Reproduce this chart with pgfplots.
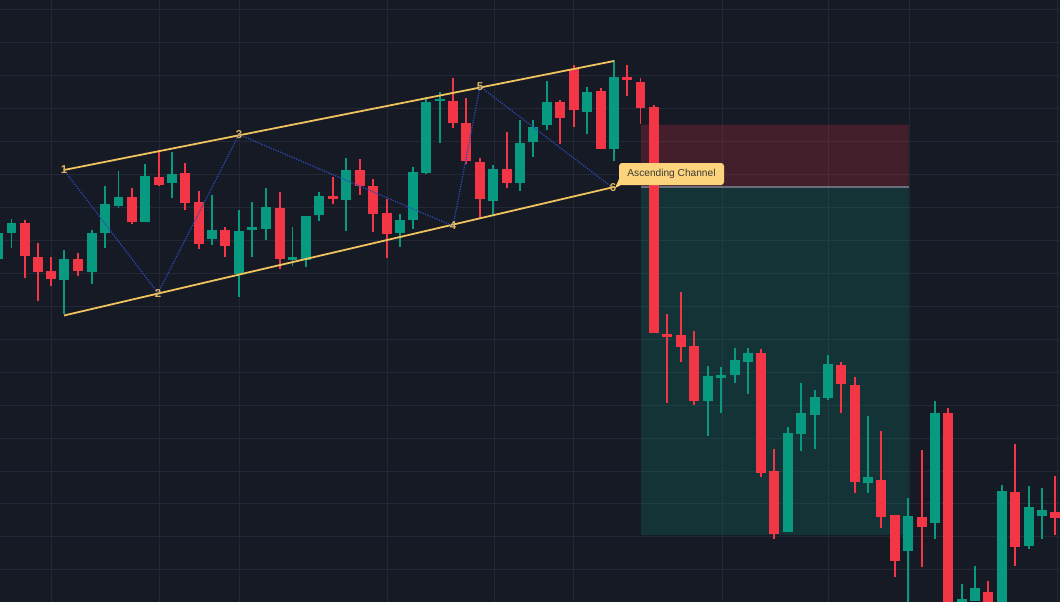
\documentclass[border=0pt]{standalone}
\usepackage{fontspec}
\setmainfont{Liberation Sans}
\usepackage{pgfplots}
\usepackage{pgfplotstable}
\pgfplotsset{compat=1.18}
\definecolor{bgc}{HTML}{161A25}
\definecolor{gridc}{HTML}{242836}
\definecolor{up}{HTML}{089981}
\definecolor{dn}{HTML}{F23645}
\definecolor{chan}{HTML}{EFC35E}
\definecolor{zig}{HTML}{2E49B4}
\definecolor{labc}{HTML}{DDB45E}
\definecolor{tip}{HTML}{FDD37C}
\definecolor{tipt}{HTML}{3A3A3A}
\definecolor{divc}{HTML}{6A6D7A}

% candles: x, body top, body bottom, wick top, wick bottom (pixel rows, top = 0)
\pgfplotstableread{
x bt bb wt wb
-2 233 259 226 268
11.5 223 233 219 248
64 259 280 250 314
92 233 272 230 284
105 204 233 186 248
118.5 197 206 171 208
145 176 222 164 222
172 174 183 152 198
212 230 239 195 245
239 231 274 210 297
252 227 229.5 202 257
266 207 229 188 240
292.5 257 260 227 266
306 216 260 216 267
319 196 215 192 221
346 170 200 158 231
400 220 233 214 247
413 172 220 167 229
426 102 173 97 174
440 99 101.5 92 143
493 169 201 165 215
520 143 183 120 191
533 127 142 120 157
547 102 125 81 130
587 92 112 87 134
614 77 149 60 161
708 376 401 366 436
721 375 377.5 367 413
735 360 375 348 383
748 353 362 348 394
788 433 532 427 532
801 413 434 383 451
815 397 415 390 449
828 364 398 355 400
868 477 483 416 493
908 516 551 498 610
935 413 523 401 539
962 599 610 584 610
975 588 601 566 601
1002 491 610 485 610
1029 507 546 486 549
1042 510 516 488 539
}\greentab

\pgfplotstableread{
x bt bb wt wb
25 223 256 220 278
38 257 272 243 301
51 271 279 257 286
78 259 271 253 276
132 197 222 188 224
159 177 185 150 186
185 173 203 163 210
199 202 244 191 249
225 230 246 227 257
280 208 259 192 269
333 196 199 177 204
360 170 186 159 195
373 186 214 179 232
387 213 234 199 258
453 101 123 78 128
466 123 161 98 164
480 162 199 158 218
507 169 183 132 188
560 102 118 100 144
574 69 110 65 127
601 91 149 88 149
627 77 80 65 96
640.5 82 108 78 124
654 107 333 105 333
667 334 337 314 403
681 335 347 292 362
694 346 401 331 405
761 353 473 349 477
774 471 534 449 539
841 365 384 362 413
855 385 482 377 493
881 480 517 431 528
895 515 561 515 577
922 517 527 450 567
948 413 610 408 610
988 592 610 581 610
1015 492 547 444 566
1055 512 518 476 535
}\redtab

\pgfplotstableread{
x y l
64 170 1
158 293 2
239 134.5 3
453 226 4
480 86.5 5
613 188 6
}\pivots

\pgfplotsset{
  wick/.style={draw=none, mark=none, forget plot,
    error bars/.cd, y dir=minus, y explicit, error mark=none,
    error bar style={line width=1.2bp, draw=#1, solid}},
  body/.style={draw=none, mark=none, forget plot,
    error bars/.cd, y dir=minus, y explicit, error mark=none,
    error bar style={line width=9.5bp, draw=#1, solid}},
}

\begin{document}
\begin{tikzpicture}
\begin{axis}[
  name=ax,
  width=1060bp, height=602bp, scale only axis,
  xmin=0, xmax=1060, ymin=0, ymax=602, y dir=reverse,
  axis background/.style={fill=bgc},
  axis line style={draw=none},
  major tick length=0pt,
  xtick={51,159,239,387,494,573,722,828,909,1057},
  ytick={9.7,42.65,75.6,108.55,141.5,174.45,207.4,240.35,273.3,306.25,339.2,372.15,405.1,438.05,471,503.95,536.9,569.85},
  xticklabels={}, yticklabels={},
  grid=major,
  major grid style={draw=gridc, line width=1bp},
  clip=true,
]
% risk / reward zones
\addplot[fill=dn, fill opacity=0.2, draw=none, forget plot]
  coordinates {(641,124.5) (908.5,124.5) (908.5,187) (641,187) (641,124.5)};
\addplot[fill=up, fill opacity=0.2, draw=none, forget plot]
  coordinates {(641,187) (908.5,187) (908.5,535) (641,535) (641,187)};
\addplot[divc, line width=1.2bp, forget plot] coordinates {(641,187) (908.5,187)};

% wicks
\addplot[wick=up] table[x=x, y=wb, y error expr=\thisrow{wb}-\thisrow{wt}] {\greentab};
\addplot[wick=dn] table[x=x, y=wb, y error expr=\thisrow{wb}-\thisrow{wt}] {\redtab};
% bodies
\addplot[body=up] table[x=x, y=bb, y error expr=\thisrow{bb}-\thisrow{bt}] {\greentab};
\addplot[body=dn] table[x=x, y=bb, y error expr=\thisrow{bb}-\thisrow{bt}] {\redtab};

% channel
\addplot[chan, line width=1.8bp, forget plot] coordinates {(64,170) (614,61)};
\addplot[chan, line width=1.8bp, forget plot] coordinates {(64,315.5) (614,187)};

% zigzag
\addplot[zig, line width=1.3bp, dash pattern=on 1.2bp off 1.3bp, mark=none, forget plot]
  table[x=x, y=y] {\pivots};
% pivot numbers
\addplot[draw=none, mark=none, forget plot,
  nodes near coords, point meta=explicit symbolic,
  every node near coord/.append style={anchor=center, inner sep=0pt,
    font=\fontsize{11.5}{12}\selectfont\bfseries, text=labc}]
  table[x=x, y=y, meta=l] {\pivots};

\fill[tip] (axis cs:619.5,178) -- (axis cs:623,184) -- (axis cs:615,188) -- cycle;
\node[fill=tip, rounded corners=3bp, text=tipt, inner sep=0pt,
  minimum width=105bp, minimum height=22bp,
  font=\fontsize{10.2}{12}\selectfont] at (axis cs:671.5,174) {Ascending Channel};
\end{axis}
\pgfresetboundingbox
\path[use as bounding box] (ax.south west) rectangle (ax.north east);
\end{tikzpicture}
\end{document}
